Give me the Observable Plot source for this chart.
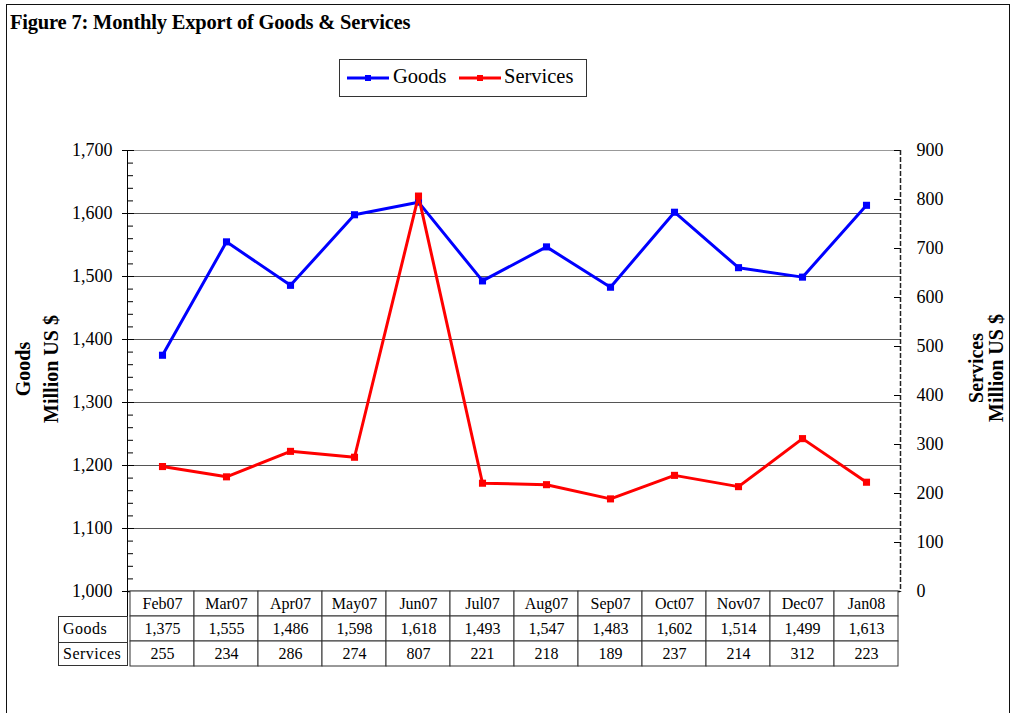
<!DOCTYPE html>
<html><head><meta charset="utf-8">
<script src="https://cdn.jsdelivr.net/npm/d3@7"></script>
<script src="https://cdn.jsdelivr.net/npm/@observablehq/plot@0.6"></script>
<style>
body{margin:0;background:#fff;}
#wrap{position:relative;width:1013px;height:713px;overflow:hidden;font-family:"Liberation Serif","Times New Roman",serif;color:#000;background:#fff;}
.abs{position:absolute;}
#frame{left:6px;top:4px;width:1004px;height:760px;border:1.5px solid #111;box-sizing:border-box;}
#title{left:10px;top:11px;font-weight:bold;font-size:20.5px;white-space:nowrap;letter-spacing:-0.2px;}
#legend{left:339px;top:59px;width:248px;height:38px;border:1px solid #333;box-sizing:border-box;background:#fff;}
.legtxt{font-family:"Liberation Serif",serif;font-size:20.5px;top:65px;white-space:nowrap;}
.ytitle{font-weight:bold;font-size:20px;text-align:center;white-space:nowrap;transform:translate(-50%,-50%) rotate(-90deg);}
#rowhead{left:58px;top:616px;width:70px;height:50px;border:1px solid #333;box-sizing:border-box;}
.rh{position:absolute;left:4px;font-size:16px;letter-spacing:0.5px;}
</style></head><body>
<div id="wrap">
  <div id="frame" class="abs"></div>
  <div id="chart" class="abs" style="left:0;top:0"></div>
  <div id="table" class="abs" style="left:0;top:590px"></div>
  <div id="title" class="abs">Figure 7: Monthly Export of Goods &amp; Services</div>
  <div id="legend" class="abs"></div>
  <div id="leg" class="abs" style="left:0;top:0"></div>
  <div class="abs ytitle" style="left:37px;top:369px;line-height:28px">Goods<br>Million US $</div>
  <div class="abs ytitle" style="left:986px;top:368px;line-height:20px">Services<br>Million US $</div>
  <div class="abs" style="left:127px;top:150px;width:0;height:516px;border-left:1.5px solid #000"></div>
  <svg class="abs" style="left:899px;top:150px" width="3" height="442"><line x1="1.5" y1="0" x2="1.5" y2="442" stroke="#222" stroke-width="1.5" stroke-dasharray="5,2"/></svg>
  <div id="rowhead" class="abs">
    <div class="rh" style="top:3px">Goods</div>
    <div style="position:absolute;left:0;right:0;top:25px;border-top:1px solid #333"></div>
    <div class="rh" style="top:28px">Services</div>
  </div>
</div>
<script>
const months = ["Feb07","Mar07","Apr07","May07","Jun07","Jul07","Aug07","Sep07","Oct07","Nov07","Dec07","Jan08"];
const goods = [1375,1555,1486,1598,1618,1493,1547,1483,1602,1514,1499,1613];
const services = [255,234,286,274,807,221,218,189,237,214,312,223];
const goodsTicks = [1000,1100,1200,1300,1400,1500,1600,1700];
const servicesTicks = [0,100,200,300,400,500,600,700,800,900];
const seriesNames = ["Goods","Services"];
const seriesColors = ["#0000ff","#ff0000"];

const gMin = 1000, gMax = 1700, sMax = 900;
const toG = s => gMin + s * (gMax - gMin) / sMax;
const toS = g => (g - gMin) * sMax / (gMax - gMin);
const minorTicks = d3.range(gMin, gMax + 1, 20).filter(v => v % 100 !== 0);

const rows = months.map((m, i) => ({month: m, goods: goods[i], services: services[i]}));
const fmt = d3.format(",");

const chart = Plot.plot({
  width: 1013, height: 593,
  marginLeft: 128, marginRight: 113, marginTop: 150, marginBottom: 2,
  style: {fontFamily: "'Liberation Serif', serif", fontSize: "18px", color: "#000", background: "transparent", overflow: "visible"},
  x: {type: "point", domain: months, padding: 0.5, axis: null},
  y: {domain: [gMin, gMax]},
  marks: [
    Plot.ruleY(goodsTicks.filter(v => v > gMin && v < gMax), {stroke: "#555", strokeWidth: 1}),
    Plot.ruleY([gMax], {stroke: "#999", strokeWidth: 1.2}),
    Plot.ruleY([gMin], {stroke: "#000", strokeWidth: 1.5}),
    Plot.axisY(minorTicks, {anchor: "left", tickSize: 5, dx: 5, fill: "none", label: null, stroke: "#000"}),
    Plot.axisY(goodsTicks, {anchor: "left", tickSize: 12, dx: 6, fill: "none", label: null, stroke: "#000"}),
    Plot.axisY(goodsTicks, {anchor: "left", tickSize: 0, tickPadding: 16, tickFormat: fmt, label: null}),
    Plot.axisY(servicesTicks.map(toG), {anchor: "right", tickSize: 7, dx: -7, fill: "none", label: null, stroke: "#000"}),
    Plot.axisY(servicesTicks.map(toG), {anchor: "right", tickSize: 0, tickPadding: 16, tickFormat: d => String(Math.round(toS(d))), label: null}),
    Plot.line(rows, {x: "month", y: "goods", stroke: seriesColors[0], strokeWidth: 3}),
    Plot.dot(rows, {x: "month", y: "goods", symbol: "square", r: 4, fill: seriesColors[0]}),
    Plot.line(rows, {x: "month", y: d => toG(d.services), stroke: seriesColors[1], strokeWidth: 3}),
    Plot.dot(rows, {x: "month", y: d => toG(d.services), symbol: "square", r: 4, fill: seriesColors[1]})
  ]
});
document.getElementById("chart").append(chart);

const cells = [];
months.forEach((m, i) => {
  cells.push({row: "Month", month: m, text: m});
  cells.push({row: "Goods", month: m, text: fmt(goods[i])});
  cells.push({row: "Services", month: m, text: String(services[i])});
});
const table = Plot.plot({
  width: 1013, height: 77,
  marginLeft: 128, marginRight: 113, marginTop: 1, marginBottom: 1,
  style: {fontFamily: "'Liberation Serif', serif", fontSize: "16px", color: "#000", background: "transparent", overflow: "visible"},
  x: {type: "band", domain: months, padding: 0, axis: null},
  y: {type: "band", domain: ["Month", "Goods", "Services"], padding: 0, axis: null},
  marks: [
    Plot.cell(cells, {x: "month", y: "row", fill: "white", stroke: "#333", strokeWidth: 1, inset: 0}),
    Plot.text(cells, {x: "month", y: "row", text: "text", fontSize: 16, fill: "#000"})
  ]
});
document.getElementById("table").append(table);

// legend
const leg = document.getElementById("leg");
const swX = [347, 459], txX = [393, 504];
seriesNames.forEach((name, i) => {
  const sw = document.createElementNS("http://www.w3.org/2000/svg", "svg");
  sw.setAttribute("width", 42); sw.setAttribute("height", 10);
  sw.style.position = "absolute"; sw.style.left = swX[i] + "px"; sw.style.top = "73px";
  sw.innerHTML = `<line x1="0" y1="5" x2="42" y2="5" stroke="${seriesColors[i]}" stroke-width="3"/><rect x="18" y="2" width="6" height="6" fill="${seriesColors[i]}"/>`;
  leg.append(sw);
  const t = document.createElement("div");
  t.className = "abs legtxt"; t.style.left = txX[i] + "px"; t.textContent = name;
  leg.append(t);
});
</script>
</body></html>
